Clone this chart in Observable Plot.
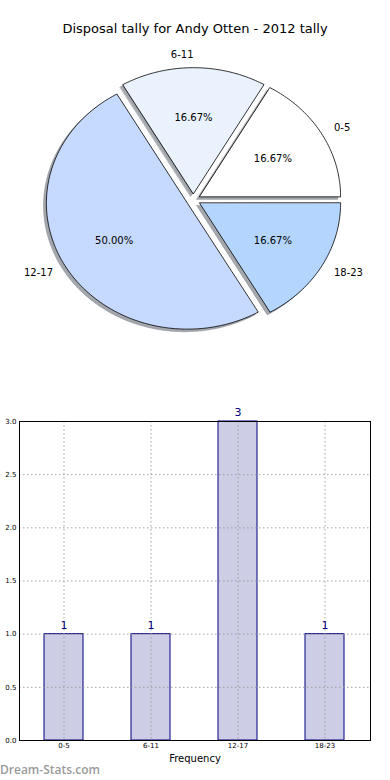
<!DOCTYPE html>
<html>
<head>
<meta charset="utf-8">
<script src="https://cdn.jsdelivr.net/npm/d3@7"></script>
<script src="https://cdn.jsdelivr.net/npm/@observablehq/plot@0.6"></script>
<style>
  html, body { margin: 0; padding: 0; background: #fff; }
  body { width: 390px; height: 780px; position: relative; overflow: hidden; font-family: "DejaVu Sans", sans-serif; }
  .abs { position: absolute; }
  #title { left: 0; width: 390px; top: 21px; text-align: center; font-size: 13px; color: #000; }
  #pie { left: 0; top: 0; }
  #bars { left: 0; top: 400px; }
  #watermark { left: 0; top: 761px; font-family: "Open Sans", sans-serif; font-size: 12px; font-weight: 600; color: #9a9a9a; }
</style>
</head>
<body>
<div id="pie" class="abs"></div>
<div id="bars" class="abs"></div>
<div id="title" class="abs">Disposal tally for Andy Otten - 2012 tally</div>
<div id="watermark" class="abs">Dream-Stats.com</div>
<script>
// ---- data ----
const categories = ["0-5", "6-11", "12-17", "18-23"];
const counts = [1, 1, 3, 1];
const yTicks = [0, 0.5, 1, 1.5, 2, 2.5, 3];
const xAxisLabel = "Frequency";

// ---- styles ----
const sliceColors = ["#ffffff", "#eaf2fe", "#c6d9fe", "#b4d5fe"];
const explode = 0.05;

// ---- pie geometry (matplotlib-style: start at 0 rad, counter-clockwise) ----
const total = d3.sum(counts);
let acc = 0;
const slices = categories.map((c, i) => {
  const t1 = acc / total;
  acc += counts[i];
  const t2 = acc / total;
  const a1 = 2 * Math.PI * t1, a2 = 2 * Math.PI * t2;
  const am = 0.5 * (a1 + a2);
  const cx = explode * Math.cos(am), cy = explode * Math.sin(am);
  return {cat: c, i, a1, a2, am, cx, cy, pct: (100 * counts[i] / total).toFixed(2) + "%"};
});
const polyPts = [];
const shadowPts = [];
for (const s of slices) {
  const n = Math.max(8, Math.ceil((s.a2 - s.a1) / (Math.PI / 180)));
  const pts = [[s.cx, s.cy]];
  for (let k = 0; k <= n; k++) {
    const a = s.a1 + (s.a2 - s.a1) * k / n;
    pts.push([s.cx + Math.cos(a), s.cy + Math.sin(a)]);
  }
  pts.forEach(([x, y]) => {
    polyPts.push({cat: s.cat, i: s.i, x, y});
    shadowPts.push({cat: s.cat, i: s.i, x: x - 0.02, y: y - 0.02});
  });
}
const outerLabels = slices.map(s => {
  const c = Math.cos(s.am);
  return {text: s.cat, x: s.cx + 1.1 * Math.cos(s.am), y: s.cy + 1.1 * Math.sin(s.am),
          anchor: c > 1e-9 ? "start" : "end"};
});
const pctLabels = slices.map(s => ({text: s.pct, x: s.cx + 0.6 * Math.cos(s.am), y: s.cy + 0.6 * Math.sin(s.am)}));

// pixel frame: centre (193,199.5), rx 141, ry 126
const PW = 390, PH = 360, CX = 193, CY = 199.5, RX = 141, RY = 126;
const pie = Plot.plot({
  width: PW, height: PH,
  margin: 0,
  x: {domain: [-CX / RX, (PW - CX) / RX], axis: null},
  y: {domain: [-(PH - CY) / RY, CY / RY], axis: null},
  style: {fontFamily: "DejaVu Sans, sans-serif", background: "transparent"},
  marks: [
    Plot.line(shadowPts, {x: "x", y: "y", z: "cat", curve: "linear-closed",
      fill: "#a4a7ad", stroke: "#8a8e96", strokeWidth: 0.6}),
    Plot.line(polyPts, {x: "x", y: "y", z: "cat", curve: "linear-closed",
      fill: d => sliceColors[d.i], stroke: "#000", strokeWidth: 0.8}),
    Plot.text(outerLabels.filter(d => d.anchor === "start"), {x: "x", y: "y", text: "text", textAnchor: "start", fontSize: 10, fill: "#000"}),
    Plot.text(outerLabels.filter(d => d.anchor === "end"), {x: "x", y: "y", text: "text", textAnchor: "end", fontSize: 10, fill: "#000"}),
    Plot.text(pctLabels, {x: "x", y: "y", text: "text", fontSize: 10, fill: "#000"})
  ]
});
document.getElementById("pie").appendChild(pie);

// ---- bar chart ----
const barData = categories.map((c, i) => ({cat: c, n: counts[i]}));
const bars = Plot.plot({
  width: 390, height: 380,
  marginLeft: 19, marginRight: 20, marginTop: 21, marginBottom: 40,
  style: {fontFamily: "DejaVu Sans, sans-serif", background: "transparent"},
  x: {domain: categories, paddingInner: 0.55, paddingOuter: 0.275, label: null},
  y: {domain: [0, 3], label: null},
  marks: [
    Plot.barY(barData, {x: "cat", y: "n", fill: "#cdcde5", stroke: "#000080", strokeWidth: 1}),
    Plot.gridX({stroke: "#999", strokeOpacity: 0.9, strokeDasharray: "1.5,2.5"}),
    Plot.gridY(yTicks, {stroke: "#999", strokeOpacity: 0.9, strokeDasharray: "1.5,2.5"}),
    Plot.axisY(yTicks, {tickSize: 0, tickPadding: 3, tickFormat: d3.format(".1f"), fontSize: 7, label: null, fill: "#000"}),
    Plot.axisX({tickSize: 0, tickPadding: 3, fontSize: 7, label: null}),
    Plot.text([xAxisLabel], {frameAnchor: "bottom", dy: 21, fontSize: 10, fill: "#000"}),
    Plot.text(barData, {x: "cat", y: "n", text: d => String(d.n), dy: -9, fontSize: 11, fill: "#000080"}),
    Plot.frame({stroke: "#000", strokeWidth: 1})
  ]
});
document.getElementById("bars").appendChild(bars);
</script>
</body>
</html>
